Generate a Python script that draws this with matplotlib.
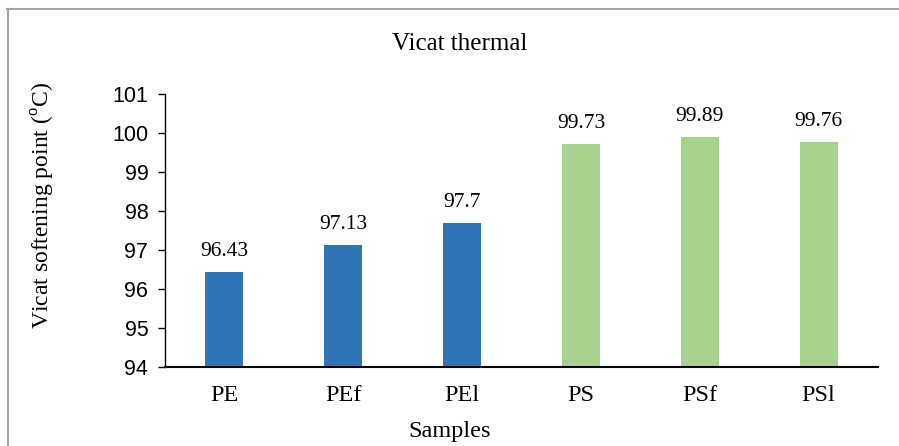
import matplotlib
matplotlib.use("Agg")
import matplotlib.pyplot as plt

categories = ["PE", "PEf", "PEl", "PS", "PSf", "PSl"]
values = [96.43, 97.13, 97.7, 99.73, 99.89, 99.76]
labels = ["96.43", "97.13", "97.7", "99.73", "99.89", "99.76"]
colors = ["#2E75B6"] * 3 + ["#A9D18E"] * 3
yticks = [94, 95, 96, 97, 98, 99, 100, 101]

plt.rcParams['mathtext.fontset'] = 'custom'
plt.rcParams['mathtext.rm'] = 'Liberation Serif'
serif = "Liberation Serif"
sans = "Liberation Sans"

fig = plt.figure(figsize=(8.99, 4.46), dpi=100)
ax = fig.add_axes([165/899, 1 - 367/446, (878-165)/899, (367-94)/446])

x = list(range(len(categories)))
ax.bar(x, [v - 94 for v in values], bottom=94, width=0.32, color=colors, zorder=2)
for xi, v, lab in zip(x, values, labels):
    ax.annotate(lab, (xi, v), xytext=(0, 11.5), textcoords="offset points",
                ha="center", va="baseline", fontsize=15.5, family=serif)

ax.set_xlim(-0.5, len(categories) - 0.5)
ax.set_ylim(94, 101)
ax.set_yticks(yticks)
ax.set_yticklabels([str(t) for t in yticks], fontsize=15.5, family=sans)
ax.set_xticks(x)
ax.set_xticklabels(categories, fontsize=17.5, family=serif)
ax.tick_params(axis='x', length=0, pad=13)
ax.tick_params(axis='y', length=5, width=1, direction='out', pad=7)
for s in ["top", "right"]:
    ax.spines[s].set_visible(False)
ax.spines["left"].set_linewidth(1)
ax.spines["bottom"].set_linewidth(1.5)

fig.text(43/899, 1 - 205/446, r"Vicat softening point ($^{\mathrm{o}}$C)", rotation=90,
         ha="center", va="center", fontsize=17, family=serif)
fig.text(460/899, 1 - 44/446, "Vicat thermal", ha="center", va="center", fontsize=18, family=serif)
fig.text(450/899, 1 - 432/446, "Samples", ha="center", va="center", fontsize=17.5, family=serif)

# outer frame (top and left visible)
fig.add_artist(plt.Line2D([7/899, 1], [1 - 8.5/446, 1 - 8.5/446], color="#A6A6A6", lw=1.5, transform=fig.transFigure))
fig.add_artist(plt.Line2D([7.5/899, 7.5/899], [0, 1 - 8.5/446], color="#A6A6A6", lw=1.5, transform=fig.transFigure))

fig.savefig("out.png", dpi=100)
